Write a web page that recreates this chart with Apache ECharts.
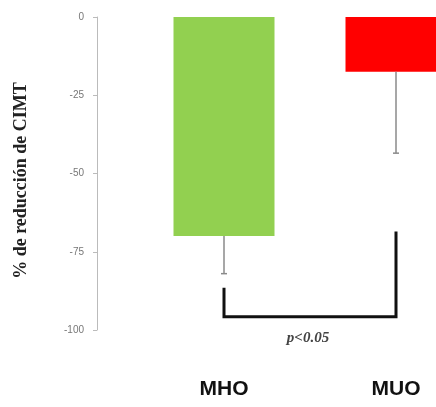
<!DOCTYPE html>
<html>
<head>
<meta charset="utf-8">
<script src="https://cdn.jsdelivr.net/npm/echarts@6/dist/echarts.min.js"></script>
<style>
  html, body { margin: 0; padding: 0; background: #fff; }
  #main { width: 436px; height: 407px; }
</style>
</head>
<body>
<div id="main"></div>
<script>
  // data
  var categories = ['MHO', 'MUO'];
  var barValues = [-70, -17.5];
  var errorEnds = [-82, -43.5];
  var barColors = ['#92D050', '#FF0000'];
  var bracketTops = [-86.5, -68.5];
  var bracketBase = -95.8;
  var pLabel = 'p<0.05';
  var yTicks = { min: -100, max: 0, interval: 25 };

  var myChart = echarts.init(document.getElementById('main'));

  var option = {
    animation: false,
    grid: { left: 138, width: 344, top: 17, bottom: 77, outerBoundsMode: 'none' },
    xAxis: {
      type: 'category',
      data: categories,
      position: 'bottom',
      axisLine: { show: false, onZero: false },
      axisTick: { show: false },
      axisLabel: {
        margin: 49,
        fontFamily: 'Liberation Sans, Arial, sans-serif',
        fontWeight: 'bold',
        fontSize: 21,
        color: '#111'
      }
    },
    yAxis: {
      type: 'value',
      min: yTicks.min,
      max: yTicks.max,
      interval: yTicks.interval,
      offset: 41,
      name: '% de reducción de CIMT',
      nameLocation: 'middle',
      nameGap: 67,
      nameTextStyle: {
        fontFamily: 'Liberation Serif, Times New Roman, serif',
        fontWeight: 'bold',
        fontSize: 18,
        color: '#222',
        padding: [0, 14, 0, 0]
      },
      splitLine: { show: false },
      axisLine: { show: true, lineStyle: { color: '#bbb', width: 1 } },
      axisTick: { show: true, length: 4, lineStyle: { color: '#bbb' } },
      axisLabel: {
        margin: 13,
        fontFamily: 'Liberation Sans, Arial, sans-serif',
        fontSize: 10,
        color: '#777'
      }
    },
    series: [{
      type: 'bar',
      barWidth: 101,
      data: barValues.map(function (v, i) {
        return { value: v, itemStyle: { color: barColors[i] } };
      })
    }, {
      type: 'custom',
      data: barValues.map(function (v, i) { return [i, v, errorEnds[i]]; }),
      renderItem: function (params, api) {
        var top = api.coord([api.value(0), api.value(1)]);
        var bot = api.coord([api.value(0), api.value(2)]);
        var style = { stroke: '#8a8a8a', lineWidth: 1.5 };
        return {
          type: 'group',
          children: [{
            type: 'line',
            shape: { x1: top[0], y1: top[1], x2: bot[0], y2: bot[1] },
            style: style
          }, {
            type: 'line',
            shape: { x1: bot[0] - 3, y1: bot[1], x2: bot[0] + 3, y2: bot[1] },
            style: style
          }]
        };
      },
      z: 3
    }, {
      type: 'custom',
      data: [[0, 1]],
      renderItem: function (params, api) {
        var p1 = api.coord([0, bracketTops[0]]);
        var p2 = api.coord([0, bracketBase]);
        var p3 = api.coord([1, bracketBase]);
        var p4 = api.coord([1, bracketTops[1]]);
        return {
          type: 'group',
          children: [{
            type: 'polyline',
            shape: { points: [p1, p2, p3, p4] },
            style: { stroke: '#111', lineWidth: 3, fill: null }
          }, {
            type: 'text',
            style: {
              text: pLabel,
              x: (p2[0] + p3[0]) / 2 - 2,
              y: p2[1] + 21,
              align: 'center',
              verticalAlign: 'middle',
              font: 'italic bold 15px "Liberation Serif", serif',
              fill: '#444'
            }
          }]
        };
      },
      z: 4
    }]
  };

  myChart.setOption(option);
</script>
</body>
</html>
